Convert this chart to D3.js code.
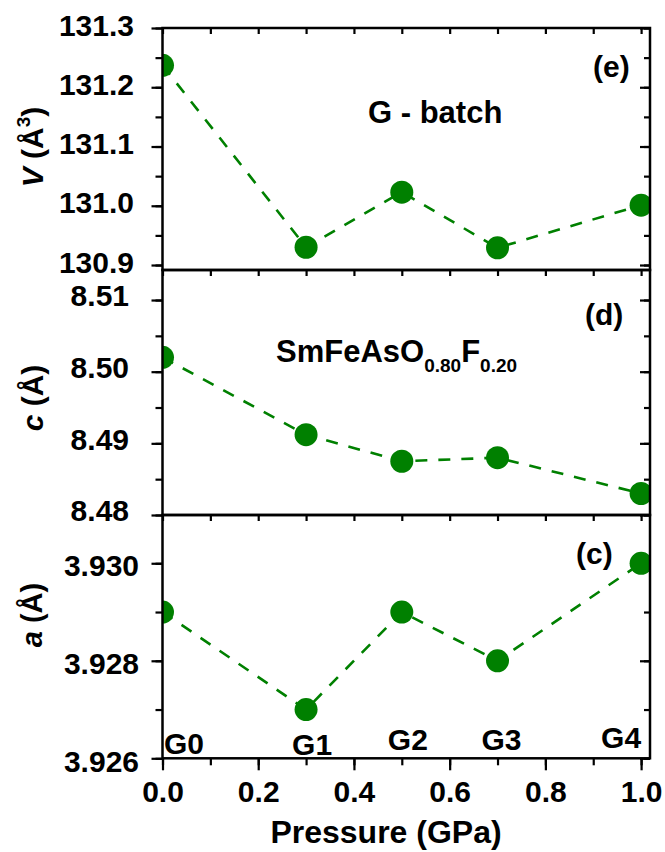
<!DOCTYPE html>
<html>
<head>
<meta charset="utf-8">
<script src="https://cdn.jsdelivr.net/npm/d3@7"></script>
<style>
  html, body { margin: 0; padding: 0; background: #fff; }
  svg { display: block; }
  text { font-family: "Liberation Sans", Arial, sans-serif; font-weight: bold; fill: #000; }
</style>
</head>
<body>
<svg id="chart" width="665" height="852"></svg>
<script>
// ---- data ----
const pressure = [0.0, 0.3, 0.5, 0.7, 1.0];
const batchLabels = ["G0", "G1", "G2", "G3", "G4"];
const volume = [131.237, 130.930, 131.023, 130.929, 131.001];
const cParam = [8.5020, 8.4912, 8.4875, 8.4880, 8.4830];
const aParam = [3.9290, 3.9270, 3.9290, 3.9280, 3.9300];
const xTicks = [0.0, 0.2, 0.4, 0.6, 0.8, 1.0];
const vTicks = [130.9, 131.0, 131.1, 131.2, 131.3];
const cTicks = [8.48, 8.49, 8.50, 8.51];
const aTicks = [3.926, 3.928, 3.930];

const svg = d3.select("#chart");
const left = 162.5, right = 650;
const x = d3.scaleLinear().domain([0, 1.0186]).range([left, right]);
const green = "#008000";

const panels = [
  { key: "V", data: volume, domain: [130.8916, 131.3], top: 28, bottom: 270,
    ticks: vTicks, minorStep: 0.05, fmt: d3.format(".1f"), labelEnd: 134, labelDy: 7.2 },
  { key: "c", data: cParam, domain: [8.48, 8.51419], top: 270, bottom: 515,
    ticks: cTicks, minorStep: 0.005, fmt: d3.format(".2f"), labelEnd: 129, labelDy: 5.7 },
  { key: "a", data: aParam, domain: [3.926, 3.93099], top: 515, bottom: 758.3,
    ticks: aTicks, minorStep: 0.001, fmt: d3.format(".3f"), labelEnd: 139, labelDy: 12.7 }
];

function range(a, b, step) {
  const out = []; const n = Math.round((b - a) / step);
  for (let i = 0; i <= n; i++) out.push(+(a + i * step).toFixed(6));
  return out;
}
const xMinor = range(0, 1.0, 0.1);

panels.forEach((p, i) => {
  const y = d3.scaleLinear().domain(p.domain).range([p.bottom, p.top]);
  p.y = y;
  const g = svg.append("g");
  const clipId = "clip" + i;
  svg.append("clipPath").attr("id", clipId).append("rect")
    .attr("x", left).attr("y", p.top).attr("width", right - left).attr("height", p.bottom - p.top);

  const minorY = range(Math.ceil(p.domain[0] / p.minorStep) * p.minorStep, p.domain[1], p.minorStep)
    .filter(v => v >= p.domain[0] && v <= p.domain[1]);

  // left minor ticks
  g.append("g").attr("transform", `translate(${left},0)`)
    .call(d3.axisLeft(y).tickValues(minorY).tickSize(7).tickFormat(""))
    .call(s => s.select(".domain").remove())
    .selectAll("line").attr("stroke-width", 2.2);
  // left major ticks with labels
  const la = g.append("g").attr("transform", `translate(${left},0)`)
    .call(d3.axisLeft(y).tickValues(p.ticks).tickSize(11).tickFormat(p.fmt))
    .call(s => s.select(".domain").remove());
  la.selectAll("line").attr("stroke-width", 2.2);
  la.selectAll("text").attr("x", p.labelEnd - left).attr("dy", null).attr("y", p.labelDy)
    .style("font-size", "30px").style("font-family", '"Liberation Sans", Arial, sans-serif')
    .style("font-weight", "bold").attr("fill", "#000");

  // right ticks inward
  g.append("g").attr("transform", `translate(${right},0)`)
    .call(d3.axisRight(y).tickValues(minorY).tickSize(-6).tickFormat(""))
    .call(s => s.select(".domain").remove())
    .selectAll("line").attr("stroke-width", 2.2);
  g.append("g").attr("transform", `translate(${right},0)`)
    .call(d3.axisRight(y).tickValues(p.ticks).tickSize(-10).tickFormat(""))
    .call(s => s.select(".domain").remove())
    .selectAll("line").attr("stroke-width", 2.2);

  // top ticks inward
  g.append("g").attr("transform", `translate(0,${p.top})`)
    .call(d3.axisTop(x).tickValues(xMinor).tickSize(-6).tickFormat(""))
    .call(s => s.select(".domain").remove())
    .selectAll("line").attr("stroke-width", 2.2);

  // data
  const line = d3.line().x((d, j) => x(pressure[j])).y(d => y(d));
  const dg = svg.append("g").attr("clip-path", `url(#${clipId})`);
  dg.append("path").datum(p.data).attr("d", line)
    .attr("fill", "none").attr("stroke", green).attr("stroke-width", 2.6)
    .attr("stroke-dasharray", "12,11");
  dg.selectAll("circle").data(p.data).join("circle")
    .attr("cx", (d, j) => x(pressure[j])).attr("cy", d => y(d)).attr("r", 11.5)
    .attr("fill", green);

  // frame
  svg.append("rect").attr("x", left).attr("y", p.top)
    .attr("width", right - left).attr("height", p.bottom - p.top)
    .attr("fill", "none").attr("stroke", "#000").attr("stroke-width", 2.5);
});

// bottom x axis
const pb = panels[2];
const xb = svg.append("g").attr("transform", `translate(0,${pb.bottom})`);
xb.append("g").call(d3.axisBottom(x).tickValues(xMinor).tickSize(7).tickFormat(""))
  .call(s => s.select(".domain").remove())
  .selectAll("line").attr("stroke-width", 2.2);
const xa = xb.append("g").call(d3.axisBottom(x).tickValues(xTicks).tickSize(12).tickFormat(d3.format(".1f")))
  .call(s => s.select(".domain").remove());
xa.selectAll("line").attr("stroke-width", 2.2);
xa.selectAll("text").attr("y", 44).attr("dy", null)
  .style("font-size", "30px").style("font-family", '"Liberation Sans", Arial, sans-serif')
  .style("font-weight", "bold").attr("fill", "#000");

// axis title
svg.append("text").attr("x", 386).attr("y", 843).attr("text-anchor", "middle")
  .style("font-size", "32px").text("Pressure (GPa)");

// y axis titles
const vt = svg.append("text").attr("transform", "translate(43,147) rotate(-90)")
  .attr("text-anchor", "middle").style("font-size", "30px");
vt.append("tspan").style("font-style", "italic").text("V");
vt.append("tspan").text(" (Å");
vt.append("tspan").attr("dy", -13).style("font-size", "19px").text("3");
vt.append("tspan").attr("dy", 13).text(")");

const ct = svg.append("text").attr("transform", "translate(43,398) rotate(-90)")
  .attr("text-anchor", "middle").style("font-size", "30px");
ct.append("tspan").style("font-style", "italic").text("c");
ct.append("tspan").text(" (Å)");

const at = svg.append("text").attr("transform", "translate(42,615) rotate(-90)")
  .attr("text-anchor", "middle").style("font-size", "29px");
at.append("tspan").style("font-style", "italic").text("a");
at.append("tspan").text(" (Å)");

// panel annotations
svg.append("text").attr("x", 593).attr("y", 77).style("font-size", "30px").text("(e)");
svg.append("text").attr("x", 585).attr("y", 325).style("font-size", "30px").text("(d)");
svg.append("text").attr("x", 576).attr("y", 564).style("font-size", "30px").text("(c)");
svg.append("text").attr("x", 368).attr("y", 123).style("font-size", "31px").text("G - batch");

const f = svg.append("text").attr("x", 276).attr("y", 362).style("font-size", "31px");
f.append("tspan").text("SmFeAsO");
f.append("tspan").attr("dy", 10).style("font-size", "19px").text("0.80");
f.append("tspan").attr("dy", -10).text("F");
f.append("tspan").attr("dy", 10).style("font-size", "19px").text("0.20");

// batch labels
const labelOffsets = [[1.5, 754], [-14, 755], [-14, 750], [-16, 750], [-40, 748]];
svg.selectAll("text.batch").data(batchLabels).join("text").attr("class", "batch")
  .attr("x", (d, j) => x(pressure[j]) + labelOffsets[j][0])
  .attr("y", (d, j) => labelOffsets[j][1])
  .style("font-size", "30px").text(d => d);
</script>
</body>
</html>
